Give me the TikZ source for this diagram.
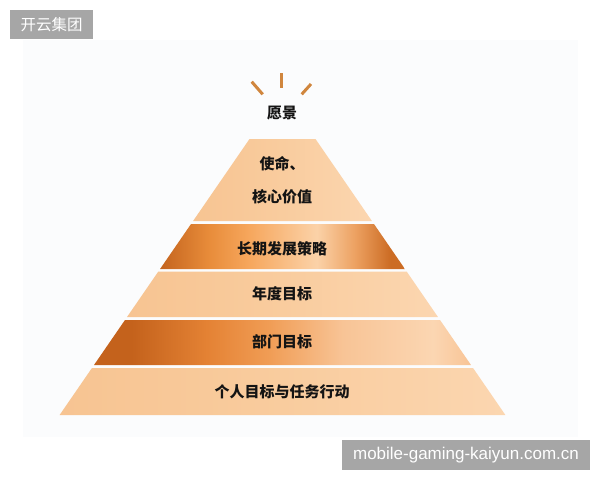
\documentclass[tikz,border=0pt]{standalone}
\usepackage{fontspec}
\newfontfamily\cjk{Noto Sans CJK SC}[BoldFont={Noto Sans CJK SC Black}]
\newfontfamily\wmfont{Liberation Sans}
\definecolor{tagGray}{RGB}{166,166,166}
\definecolor{bgFaint}{RGB}{251,252,253}
\definecolor{rayCol}{RGB}{208,134,62}
\definecolor{lA}{RGB}{247,196,146}
\definecolor{lB}{RGB}{249,204,158}
\definecolor{lC}{RGB}{251,214,176}
\definecolor{dA}{RGB}{196,100,30}
\definecolor{dB}{RGB}{232,140,58}
\definecolor{dC}{RGB}{246,166,92}
\definecolor{dD}{RGB}{251,210,168}
\definecolor{dE}{RGB}{236,160,96}
\definecolor{dF}{RGB}{204,108,36}
\definecolor{eA}{RGB}{196,98,28}
\definecolor{eB}{RGB}{228,130,52}
\definecolor{eC}{RGB}{240,156,84}
\definecolor{eD}{RGB}{248,196,150}
\definecolor{eE}{RGB}{251,214,178}
\pgfdeclarehorizontalshading{lightsh}{100bp}{color(0bp)=(lA); color(25bp)=(lA); color(50bp)=(lB); color(75bp)=(lC); color(100bp)=(lC)}
\pgfdeclarehorizontalshading{darksh}{100bp}{color(0bp)=(dA); color(25bp)=(dA); color(35bp)=(dB); color(43bp)=(dC); color(57bp)=(dD); color(65bp)=(dE); color(72bp)=(dF); color(75bp)=(dF); color(100bp)=(dF)}
\pgfdeclarehorizontalshading{darkshb}{100bp}{color(0bp)=(eA); color(25bp)=(eA); color(30bp)=(eA); color(40bp)=(eB); color(48bp)=(eC); color(58bp)=(eD); color(70bp)=(eE); color(75bp)=(eD); color(100bp)=(eD)}
\newcommand\pyrlayer[3]{%
  \pgfmathsetmacro\pyta{33+0.688*(#1-139)}%
  \pgfmathsetmacro\pytb{33+0.688*(#2-139)}%
  \shade[shading=#3] (282.5-\pyta,#1) -- (282.5+\pyta,#1) -- (282.5+\pytb,#2) -- (282.5-\pytb,#2) -- cycle;}
\begin{document}
\begin{tikzpicture}[x=1pt,y=-1pt,
  lbl/.style={font=\cjk\bfseries\fontsize{15}{15}\selectfont, text=black!92, inner sep=0pt},
  ray/.style={draw=rayCol, line width=3pt},
  tag/.style={fill=tagGray, text=white, inner sep=0pt}]
\useasboundingbox (0,0) rectangle (600,480);
\fill[bgFaint] (23,40) rectangle (578,437);
% rays
\draw[ray] (251.7,81.7) -- (262.7,94.3);
\draw[ray] (281.5,73.3) -- (281.5,88.3);
\draw[ray] (311,84) -- (301.7,94.3);
% pyramid layers
\pyrlayer{139}{221}{lightsh}
\pyrlayer{224}{269}{darksh}
\pyrlayer{271.5}{317}{lightsh}
\pyrlayer{320}{365}{darkshb}
\pyrlayer{368}{415}{lightsh}
% texts
\node[lbl] (vision) at (282,113) {愿景};
\node[lbl] (mission) at (282,163.5) {使命、};
\node[lbl] (values) at (282,197) {核心价值};
\node[lbl] (strategy) at (282,248.5) {长期发展策略};
\node[lbl] (annual) at (282,294) {年度目标};
\node[lbl] (dept) at (282,342) {部门目标};
\node[lbl] (personal) at (282,391.5) {个人目标与任务行动};
% tags
\node[tag, minimum width=83pt, minimum height=29pt, font=\cjk\fontsize{15.5}{15.5}\selectfont] (brand) at (51.5,24.5) {开云集团};
\node[tag, minimum width=248pt, minimum height=30pt, font=\wmfont\fontsize{17}{17}\selectfont] (wm) at (466,455) {mobile-gaming-kaiyun.com.cn};
\end{tikzpicture}
\end{document}
